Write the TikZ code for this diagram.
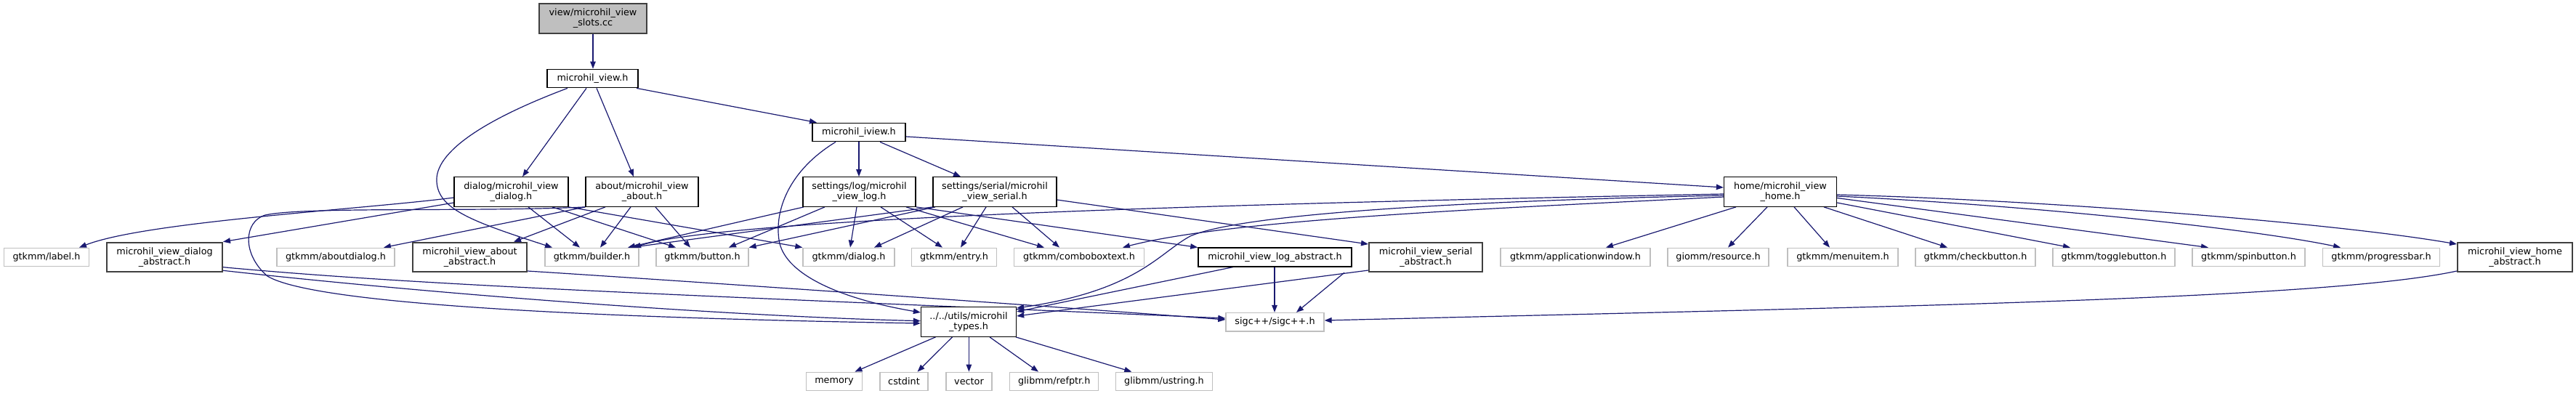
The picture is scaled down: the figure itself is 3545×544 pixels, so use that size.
\documentclass[tikz,border=0pt]{standalone}
\usepackage{fontspec}
\setmainfont{DejaVu Sans}
\usetikzlibrary{arrows.meta}
\definecolor{edgec}{HTML}{191970}
\definecolor{leafc}{HTML}{BFBFBF}
\definecolor{truncc}{HTML}{404040}
\definecolor{rootfill}{HTML}{BFBFBF}
\pgfdeclarelayer{background}
\pgfsetlayers{background,main}
\tikzset{
 box/.style={rectangle, inner sep=0pt, align=center, fill=white, line width=1.3pt, font=\fontsize{12.8}{14}\selectfont},
 leaf/.style={box, draw=leafc},
 doc/.style={box, draw=black},
 trunc/.style={box, draw=truncc, line width=2pt},
 rootst/.style={box, draw=truncc, fill=rootfill, line width=2pt},
 one/.style={minimum height=25.5pt},
 two/.style={minimum height=40.5pt},
 conn/.style={draw=edgec, line width=1.2pt, -{Triangle[length=10pt,width=7.5pt]}},
}
\begin{document}
\begin{tikzpicture}[x=1pt,y=-1pt]
\useasboundingbox (0,0) rectangle (3545,544);
% row 0-2
\node[rootst, two, minimum width=148pt] (root) at (816,25.5) {view/microhil\_view\\\_slots.cc};
\node[doc, one, minimum width=125pt] (view) at (815.5,108) {microhil\_view.h};
\node[doc, one, minimum width=128pt] (iview) at (1182,182) {microhil\_iview.h};
\node[doc, two, minimum width=157pt] (dialog) at (703.5,264) {dialog/microhil\_view\\\_dialog.h};
\node[doc, two, minimum width=155pt] (about) at (883.5,264) {about/microhil\_view\\\_about.h};
\node[doc, two, minimum width=155pt] (log) at (1182.5,264) {settings/log/microhil\\\_view\_log.h};
\node[doc, two, minimum width=170pt] (serial) at (1369,264) {settings/serial/microhil\\\_view\_serial.h};
\node[doc, two, minimum width=155pt] (home) at (2450,264) {home/microhil\_view\\\_home.h};
% row 3
\node[leaf, one, minimum width=117pt] (label) at (64,354) {gtkmm/label.h};
\node[trunc, two, minimum width=159pt] (dabs) at (226.5,354) {microhil\_view\_dialog\\\_abstract.h};
\node[leaf, one, minimum width=162pt] (aboutdlg) at (462,354) {gtkmm/aboutdialog.h};
\node[trunc, two, minimum width=157pt] (aabs) at (646.5,354) {microhil\_view\_about\\\_abstract.h};
\node[leaf, one, minimum width=129pt] (builder) at (814.5,354) {gtkmm/builder.h};
\node[leaf, one, minimum width=127pt] (button) at (966.5,354) {gtkmm/button.h};
\node[leaf, one, minimum width=126pt] (gdialog) at (1168,354) {gtkmm/dialog.h};
\node[leaf, one, minimum width=117pt] (entry) at (1313,354) {gtkmm/entry.h};
\node[leaf, one, minimum width=179pt] (combo) at (1485,354) {gtkmm/comboboxtext.h};
\node[doc, one, minimum width=211pt, line width=1.6pt] (labs) at (1754.5,354) {microhil\_view\_log\_abstract.h};
\node[trunc, two, minimum width=156pt] (sabs) at (1962,354) {microhil\_view\_serial\\\_abstract.h};
\node[leaf, one, minimum width=206pt] (appwin) at (2168,354) {gtkmm/applicationwindow.h};
\node[leaf, one, minimum width=139pt] (resource) at (2364.5,354) {giomm/resource.h};
\node[leaf, one, minimum width=152pt] (menuitem) at (2536,354) {gtkmm/menuitem.h};
\node[leaf, one, minimum width=165pt] (check) at (2718.5,354) {gtkmm/checkbutton.h};
\node[leaf, one, minimum width=168pt] (toggle) at (2909,354) {gtkmm/togglebutton.h};
\node[leaf, one, minimum width=155pt] (spin) at (3094.5,354) {gtkmm/spinbutton.h};
\node[leaf, one, minimum width=161pt] (progress) at (3277,354) {gtkmm/progressbar.h};
\node[trunc, two, minimum width=158pt] (habs) at (3461,354) {microhil\_view\_home\\\_abstract.h};
% row 4
\node[doc, two, minimum width=131pt] (types) at (1333,443) {../../utils/microhil\\\_types.h};
\node[leaf, one, minimum width=135pt] (sigc) at (1754.5,443.3) {sigc++/sigc++.h};
% row 5
\node[leaf, one, minimum width=77.5pt] (memory) at (1148,525) {memory};
\node[leaf, one, minimum width=66pt] (cstdint) at (1244,525) {cstdint};
\node[leaf, one, minimum width=63pt] (vector) at (1333.5,525) {vector};
\node[leaf, one, minimum width=122pt] (refptr) at (1450.7,525) {glibmm/refptr.h};
\node[leaf, one, minimum width=133.5pt] (ustring) at (1602,525) {glibmm/ustring.h};

\begin{pgfonlayer}{background}
\draw[conn] (root.south -| 816,0) -- (view.north -| 816,0);
\draw[conn] (view.south -| 781,0) .. controls (665,165) and (598,210) .. (601,250) .. controls (603,288) and (650,305) .. (builder.north -| 760,0);
\draw[conn] (view.south -| 807,0) -- (dialog.north -| 719,0);
\draw[conn] (view.south -| 821,0) -- (about.north -| 872,0);
\draw[conn] (view.south -| 876,0) -- (iview.north -| 1124,0);
% iview
\draw[conn] (iview.south -| 1182,0) -- (log.north -| 1182,0);
\draw[conn] (iview.south -| 1211,0) -- (serial.north -| 1322,0);
\draw[conn] (iview.east |- 0,188) -- (home.west |- 0,258);
\draw[conn] (iview.south -| 1150,0) .. controls (1085,235) and (1066,290) .. (1072,330) .. controls (1078,375) and (1150,410) .. (types.west |- 0,430);
% dialog
\draw[conn] (dialog.west |- 0,272) .. controls (500,288) and (200,305) .. (label.north -| 109,0);
\draw[conn] (dialog.west |- 0,279) -- (dabs.north east);
\draw[conn] (dialog.south -| 727,0) -- (builder.north -| 798,0);
\draw[conn] (dialog.south -| 760,0) -- (button.north -| 930,0);
\draw[conn] (dialog.south east) -- (gdialog.north west);
% about
\draw[conn] (about.south west) -- (aboutdlg.north -| 528,0);
\draw[conn] (about.south -| 833,0) -- (aabs.north -| 707,0);
\draw[conn] (about.south -| 868,0) -- (builder.north -| 826,0);
\draw[conn] (about.south -| 902,0) -- (button.north -| 950,0);
\draw[conn] (about.south west) .. controls (650,292) and (420,284) .. (365,296) .. controls (335,305) and (333,350) .. (368,380) .. controls (430,418) and (800,437) .. (types.west |- 0,445);
% abstracts on the left
\draw[conn] (dabs.east |- 0,367.7) .. controls (600,395) and (1000,408) .. (sigc.west |- 0,438);
\draw[conn] (dabs.east |- 0,372.3) .. controls (600,405) and (1000,435) .. (types.west |- 0,441.7);
\draw[conn] (aabs.east |- 0,373) .. controls (900,384) and (1400,418) .. (sigc.west |- 0,440);
% log
\draw[conn] (log.south -| 1106,0) -- (builder.north -| 864,0);
\draw[conn] (log.south -| 1135,0) -- (button.north -| 1003,0);
\draw[conn] (log.south -| 1179,0) -- (gdialog.north -| 1170,0);
\draw[conn] (log.south -| 1212,0) -- (entry.north -| 1297,0);
\draw[conn] (log.south -| 1247,0) -- (combo.north -| 1437,0);
\draw[conn] (log.south east) -- (labs.north west);
% serial
\draw[conn] (serial.south west) -- (builder.north -| 868,0);
\draw[conn] (serial.south -| 1287,0) -- (button.north east);
\draw[conn] (serial.south -| 1325,0) -- (gdialog.north -| 1203,0);
\draw[conn] (serial.south -| 1357,0) -- (entry.north -| 1322,0);
\draw[conn] (serial.south -| 1393,0) -- (combo.north -| 1458,0);
\draw[conn] (serial.east |- 0,275) -- (sabs.west |- 0,336);
% home
\draw[conn] (home.west |- 0,267) .. controls (1700,280) and (1000,300) .. (builder.north -| 872,0);
\draw[conn] (home.west |- 0,271) .. controls (2100,285) and (1700,300) .. (combo.north -| 1545,0);
\draw[conn] (home.west |- 0,269) .. controls (1950,278) and (1700,298) .. (1638,325) .. controls (1595,348) and (1565,400) .. (types.east |- 0,424);
\draw[conn] (home.south -| 2389,0) -- (appwin.north -| 2210,0);
\draw[conn] (home.south -| 2432,0) -- (resource.north -| 2378,0);
\draw[conn] (home.south -| 2469,0) -- (menuitem.north -| 2518,0);
\draw[conn] (home.south -| 2510,0) -- (check.north -| 2680,0);
\draw[conn] (home.east |- 0,279) -- (toggle.north -| 2849,0);
\draw[conn] (home.east |- 0,272.5) -- (spin.north -| 3039,0);
\draw[conn] (home.east |- 0,270) .. controls (2800,283) and (3100,315) .. (progress.north -| 3221,0);
\draw[conn] (home.east |- 0,268) .. controls (2800,275) and (3200,305) .. (habs.west |- 0,336);
% abstracts on the right
\draw[conn] (habs.west |- 0,373) .. controls (3200,412) and (2600,422) .. (sigc.east |- 0,441);
\draw[conn] (labs.south -| 1697,0) -- (types.east |- 0,429);
\draw[conn] (labs.south -| 1754,0) -- (sigc.north -| 1754,0);
\draw[conn] (sabs.west |- 0,372) -- (types.east |- 0,435);
\draw[conn] (sabs.south -| 1850,0) -- (sigc.north -| 1784,0);
% types
\draw[conn] (types.south -| 1287.5,0) -- (memory.north -| 1176.5,0);
\draw[conn] (types.south -| 1310.5,0) -- (cstdint.north -| 1262.6,0);
\draw[conn] (types.south -| 1333.4,0) -- (vector.north -| 1333.4,0);
\draw[conn] (types.south -| 1362,0) -- (refptr.north -| 1429,0);
\draw[conn] (types.south -| 1398,0) -- (ustring.north -| 1557.3,0);
\end{pgfonlayer}
\end{tikzpicture}
\end{document}
